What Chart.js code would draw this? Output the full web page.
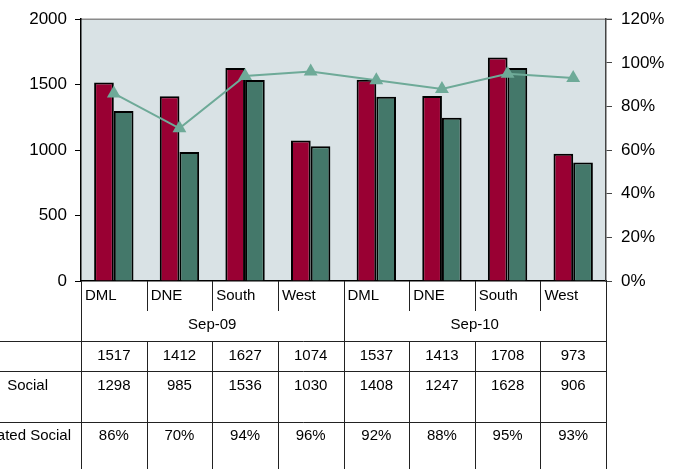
<!DOCTYPE html>
<html>
<head>
<meta charset="utf-8">
<script src="https://cdn.jsdelivr.net/npm/chart.js@4.4.1/dist/chart.umd.min.js"></script>
<style>
  html, body { margin: 0; padding: 0; background: #fff; }
  #wrap { width: 685px; height: 469px; }
</style>
</head>
<body>
<div id="wrap"><canvas id="chart" width="685" height="469"></canvas></div>
<script>
// Periods and regions shown along the bottom
const periods = ['Sep-09', 'Sep-10'];
const regions = ['DML', 'DNE', 'South', 'West'];

// Series values, one per region per period
const totals = [1517, 1412, 1627, 1074, 1537, 1413, 1708, 973];
const social = [1298, 985, 1536, 1030, 1408, 1247, 1628, 906];
const ratio = [0.86, 0.70, 0.94, 0.96, 0.92, 0.88, 0.95, 0.93];

// Axis ticks
const leftTicks = [0, 500, 1000, 1500, 2000];
const rightTicks = [0, 0.2, 0.4, 0.6, 0.8, 1.0, 1.2];

// Row captions in the data table (left column is clipped)
const rowLabels = ['', 'Social', 'ated Social'];

const labels = [];
periods.forEach(p => regions.forEach(r => labels.push(r)));

const FONT = '"Liberation Sans", Arial, sans-serif';
const pct = v => Math.round(v * 100) + '%';

// Plot background and the grey frame line along the top
const plotBg = {
    id: 'plotBg',
    beforeDraw(chart) {
        const { ctx, chartArea: a } = chart;
        ctx.save();
        ctx.fillStyle = '#d9e2e5';
        ctx.fillRect(a.left, a.top, a.right - a.left, a.bottom - a.top);
        ctx.strokeStyle = '#8a8a8a';
        ctx.lineWidth = 1.5;
        ctx.beginPath();
        ctx.moveTo(a.left, a.top);
        ctx.lineTo(a.right + 6, a.top);
        ctx.stroke();
        ctx.restore();
    }
};

// Data table under the x axis: region labels, period labels, value rows
const dataTable = {
    id: 'dataTable',
    afterDraw(chart) {
        const { ctx, chartArea: a } = chart;
        const x = chart.scales.x;
        const step = x.getPixelForValue(1) - x.getPixelForValue(0);
        const edge = i => x.getPixelForValue(i) - step / 2;
        const n = labels.length;
        const top = a.bottom;
        const yCat = top + 30, yGroup = top + 60;
        const rowLines = [yGroup, top + 90, top + 141];
        const bottom = chart.height;

        ctx.save();
        ctx.strokeStyle = '#222';
        ctx.lineWidth = 1;
        ctx.beginPath();
        // vertical lines
        for (let i = 0; i <= n; i++) {
            const px = Math.round(edge(i)) + 0.5;
            const groupEdge = i % regions.length === 0;
            if (groupEdge) {
                ctx.moveTo(px, top); ctx.lineTo(px, bottom);
            } else {
                ctx.moveTo(px, top); ctx.lineTo(px, yCat);
                ctx.moveTo(px, yGroup); ctx.lineTo(px, bottom);
            }
        }
        // horizontal row lines
        rowLines.forEach(y => {
            ctx.moveTo(0, y + 0.5);
            ctx.lineTo(Math.round(edge(n)) + 0.5, y + 0.5);
        });
        ctx.stroke();

        ctx.fillStyle = '#000';
        ctx.textBaseline = 'middle';
        ctx.font = '15px ' + FONT;

        // region labels, left aligned in their cells
        ctx.textAlign = 'left';
        labels.forEach((l, i) => ctx.fillText(l, edge(i) + 4, top + 15));

        // period labels centred across their regions
        ctx.textAlign = 'center';
        periods.forEach((p, g) => {
            const c = (edge(g * regions.length) + edge((g + 1) * regions.length)) / 2;
            ctx.fillText(p, c, top + 44);
        });

        // value rows
        const rows = [totals.map(String), social.map(String), ratio.map(pct)];
        const rowY = [top + 75, top + 105, top + 155];
        rows.forEach((vals, r) => {
            vals.forEach((v, i) => ctx.fillText(v, x.getPixelForValue(i), rowY[r]));
        });

        // clipped row captions
        ctx.textAlign = 'right';
        ctx.fillText(rowLabels[1], 48, rowY[1]);
        ctx.fillText(rowLabels[2], 71, rowY[2]);
        ctx.restore();
    }
};

new Chart(document.getElementById('chart'), {
    type: 'bar',
    data: {
        labels: labels,
        datasets: [
            {
                type: 'line',
                data: ratio,
                yAxisID: 'y1',
                order: 0,
                borderColor: '#6eaa98',
                backgroundColor: '#6eaa98',
                borderWidth: 2,
                pointStyle: 'triangle',
                pointRadius: 8,
                pointBorderWidth: 0,
                tension: 0
            },
            {
                data: totals,
                yAxisID: 'y',
                order: 1,
                backgroundColor: '#990033',
                borderColor: '#000',
                borderWidth: 2,
                categoryPercentage: 0.6,
                barPercentage: 1.0
            },
            {
                data: social,
                yAxisID: 'y',
                order: 1,
                backgroundColor: '#44786a',
                borderColor: '#000',
                borderWidth: 2,
                categoryPercentage: 0.6,
                barPercentage: 1.0
            }
        ]
    },
    options: {
        responsive: false,
        animation: false,
        layout: { padding: { top: 17, left: 0, right: 0, bottom: 0 } },
        plugins: {
            legend: { display: false },
            tooltip: { enabled: false }
        },
        scales: {
            x: {
                grid: { display: false },
                ticks: { display: false },
                border: { color: '#000', width: 1.5 },
                afterFit: s => { s.height = 188; }
            },
            y: {
                position: 'left',
                min: 0,
                max: 2000,
                afterBuildTicks: s => { s.ticks = leftTicks.map(v => ({ value: v })); },
                ticks: {
                    color: '#000',
                    font: { family: FONT, size: 17 },
                    padding: 8,
                    callback: v => String(v)
                },
                grid: { drawOnChartArea: false, tickLength: 6, color: '#000' },
                border: { color: '#000', width: 1.5 },
                afterFit: s => { s.width = 81; }
            },
            y1: {
                position: 'right',
                min: 0,
                max: 1.2,
                afterBuildTicks: s => { s.ticks = rightTicks.map(v => ({ value: v })); },
                ticks: {
                    color: '#000',
                    font: { family: FONT, size: 17 },
                    padding: 9,
                    callback: v => pct(v)
                },
                grid: { drawOnChartArea: false, tickLength: 6, color: '#444' },
                border: { color: '#444', width: 1.5 },
                afterFit: s => { s.width = 79; }
            }
        }
    },
    plugins: [plotBg, dataTable]
});
</script>
</body>
</html>
